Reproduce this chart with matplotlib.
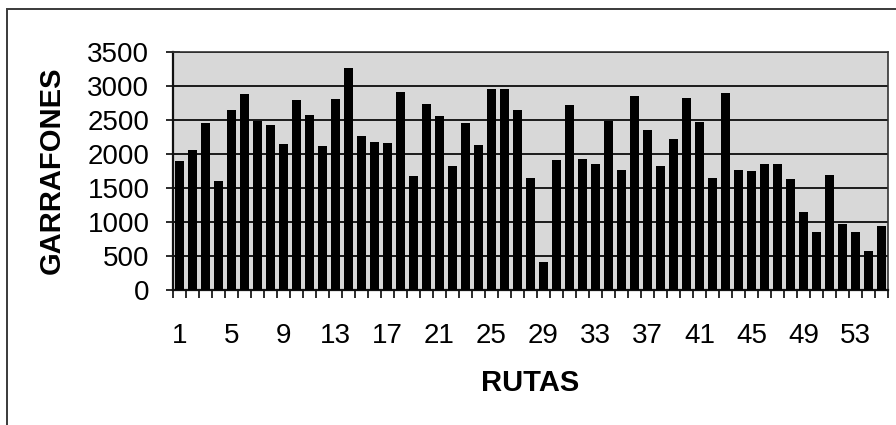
import matplotlib
matplotlib.use("Agg")
import matplotlib.pyplot as plt
from matplotlib.patches import Rectangle
from matplotlib.ticker import FixedLocator, NullFormatter

plt.rcParams["font.family"] = ["Liberation Sans", "DejaVu Sans"]

# Garrafones delivered per route
rutas = list(range(1, 56))
garrafones = [
    1890, 2060, 2450, 1600, 2640, 2880, 2480, 2430, 2140, 2800,
    2580, 2120, 2810, 3270, 2260, 2170, 2165, 2910, 1680, 2740,
    2560, 1820, 2450, 2130, 2950, 2960, 2640, 1640, 410, 1910,
    2720, 1930, 1850, 2480, 1760, 2860, 2350, 1820, 2220, 2830,
    2470, 1650, 2900, 1760, 1750, 1860, 1850, 1630, 1140, 860,
    1690, 970, 860, 570, 940,
]
y_ticks = [0, 500, 1000, 1500, 2000, 2500, 3000, 3500]
x_labels = [1, 5, 9, 13, 17, 21, 25, 29, 33, 37, 41, 45, 49, 53]

W, H = 896, 425
fig = plt.figure(figsize=(W / 100, H / 100), dpi=100)

# outer chart frame
fig.patches.append(Rectangle((7 / W, -0.05), 1.2, 1 - 9 / H + 0.05,
                             transform=fig.transFigure, fill=False,
                             edgecolor="#3a3a3a", linewidth=1.4))

ax = fig.add_axes([173 / W, 1 - 290 / H, (888 - 173) / W, (290 - 52) / H])
ax.set_facecolor("#d8d8d8")

ax.bar(rutas, garrafones, width=0.68, color="black", zorder=3)

ax.set_xlim(0.5, len(rutas) + 0.5)
ax.set_ylim(0, 3500)
ax.set_yticks(y_ticks)
ax.yaxis.grid(True, color="#1a1a1a", linewidth=1.4, zorder=1)
ax.set_axisbelow(True)

ax.xaxis.set_major_locator(FixedLocator(x_labels))
ax.set_xticklabels([str(v) for v in x_labels])
ax.xaxis.set_minor_locator(FixedLocator([i + 0.5 for i in range(0, len(rutas) + 1)]))
ax.xaxis.set_minor_formatter(NullFormatter())

ax.tick_params(axis="x", which="major", length=0, pad=24, labelsize=20)
ax.tick_params(axis="x", which="minor", direction="out", length=6, width=1.3, color="#1a1a1a")
ax.tick_params(axis="y", direction="inout", length=10, width=1.3, color="#1a1a1a",
               pad=12, labelsize=20)

for side in ["top", "right"]:
    ax.spines[side].set_color("#333333")
    ax.spines[side].set_linewidth(1.2)
for side in ["left", "bottom"]:
    ax.spines[side].set_color("#111111")
    ax.spines[side].set_linewidth(1.6)

fig.text(52 / W, 1 - 170 / H, "GARRAFONES", rotation=90, ha="center", va="center",
         fontsize=21, fontweight="bold")
fig.text(530 / W, 1 - 383 / H, "RUTAS", ha="center", va="center",
         fontsize=21, fontweight="bold")

fig.savefig("out.png", dpi=100)
